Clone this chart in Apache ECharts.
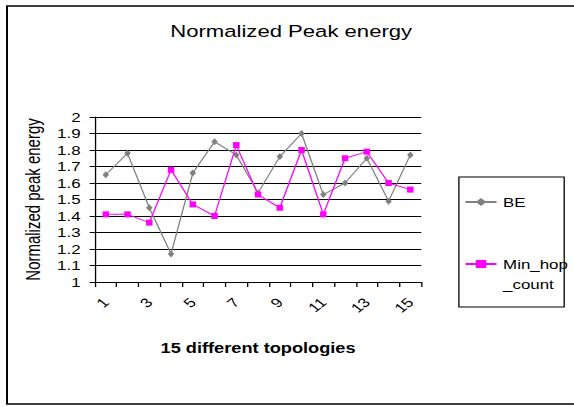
<!DOCTYPE html>
<html>
<head>
<meta charset="utf-8">
<script src="https://cdn.jsdelivr.net/npm/echarts@6/dist/echarts.min.js"></script>
<style>
html,body{margin:0;padding:0;background:#fff;overflow:hidden;}
#c{width:441.5px;height:407px;transform:scaleX(1.3);transform-origin:0 0;}
</style>
</head>
<body>
<div id="c"></div>
<script>
const categories = ['1','2','3','4','5','6','7','8','9','10','11','12','13','14','15'];
const beValues = [1.65,1.78,1.45,1.17,1.66,1.85,1.77,1.54,1.76,1.90,1.53,1.60,1.75,1.49,1.77];
const minHopValues = [1.41,1.41,1.36,1.68,1.47,1.40,1.83,1.53,1.45,1.80,1.41,1.75,1.79,1.60,1.56];
const seriesNames = ['BE','Min_hop_count'];
const titleText = 'Normalized Peak energy';
const xName = '15 different topologies';
const yName = 'Normalized peak energy';

const FONT = 'Liberation Sans, Arial, sans-serif';
const chart = echarts.init(document.getElementById('c'), null, {renderer:'svg'});
chart.setOption({
  animation:false,
  backgroundColor:'#fff',
  textStyle:{fontFamily:FONT},
  title:{text:titleText,left:224,top:22,textAlign:'center',padding:0,
    textStyle:{fontFamily:FONT,fontSize:17,fontWeight:'normal',color:'#000'}},
  graphic:[
    {type:'rect',shape:{x:5.4,y:6,width:460,height:398},style:{fill:'none',stroke:'#000',lineWidth:1.5},silent:true},
    {type:'rect',shape:{x:353,y:177,width:81,height:130},style:{fill:'none',stroke:'#000',lineWidth:1},silent:true}
  ],
  legend:[
    {data:[seriesNames[0]],orient:'vertical',left:357,top:192,padding:0,itemWidth:24,itemHeight:10,itemGap:0,
      textStyle:{fontFamily:FONT,fontSize:13,color:'#000',lineHeight:20}},
    {data:[seriesNames[1]],orient:'vertical',left:357,top:234,padding:0,itemWidth:24,itemHeight:10,itemGap:0,
      formatter:function(n){return ' \nMin_hop\n_count';},
      textStyle:{fontFamily:FONT,fontSize:13,color:'#000',lineHeight:20}}
  ],
  grid:{left:73,top:117,width:251,height:165,containLabel:false},
  xAxis:{type:'category',data:categories,boundaryGap:true,
    name:xName,nameLocation:'middle',nameGap:59,
    nameTextStyle:{fontFamily:FONT,fontSize:14,fontWeight:'bold',color:'#000'},
    axisLine:{lineStyle:{color:'#000',width:1}},
    axisTick:{show:true,interval:0,length:5,lineStyle:{color:'#000'}},
    axisLabel:{interval:1,rotate:45,margin:18,fontFamily:FONT,fontSize:13,color:'#000'},
    splitLine:{show:false}},
  yAxis:{type:'value',min:1,max:2,interval:0.1,
    name:yName,nameLocation:'middle',nameGap:36,
    nameTextStyle:{fontFamily:FONT,fontSize:15,color:'#000'},
    axisLine:{show:true,lineStyle:{color:'#000',width:1}},
    axisTick:{show:true,length:4,lineStyle:{color:'#000'}},
    axisLabel:{margin:11,fontFamily:FONT,fontSize:13,color:'#000'},
    splitLine:{show:true,lineStyle:{color:'#000',width:1}}},
  series:[
    {name:seriesNames[0],type:'line',data:beValues,symbol:'diamond',symbolSize:[5,7],
      lineStyle:{color:'#808080',width:1},itemStyle:{color:'#808080'}},
    {name:seriesNames[1],type:'line',data:minHopValues,symbol:'rect',symbolSize:[5,6],
      lineStyle:{color:'#FF00FF',width:1},itemStyle:{color:'#FF00FF'}}
  ]
});
</script>
</body>
</html>
